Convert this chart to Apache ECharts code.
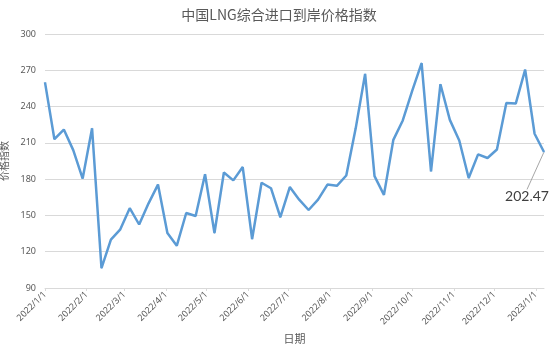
<!DOCTYPE html>
<html>
<head>
<meta charset="utf-8">
<script src="https://cdn.jsdelivr.net/npm/echarts@6/dist/echarts.min.js"></script>
<style>
html,body{margin:0;padding:0;background:#fff;}
#chart{width:558px;height:349px;}
</style>
</head>
<body>
<div id="chart"></div>
<script>
const titleText = '中国LNG综合进口到岸价格指数';
const xName = '日期';
const yName = '价格指数';
const dates = [
  '2022-01-01','2022-01-08','2022-01-15','2022-01-22','2022-01-29',
  '2022-02-05','2022-02-12','2022-02-19','2022-02-26',
  '2022-03-05','2022-03-12','2022-03-19','2022-03-26',
  '2022-04-02','2022-04-09','2022-04-16','2022-04-23','2022-04-30',
  '2022-05-07','2022-05-14','2022-05-21','2022-05-28',
  '2022-06-04','2022-06-11','2022-06-18','2022-06-25',
  '2022-07-02','2022-07-09','2022-07-16','2022-07-23','2022-07-30',
  '2022-08-06','2022-08-13','2022-08-20','2022-08-27',
  '2022-09-03','2022-09-10','2022-09-17','2022-09-24',
  '2022-10-01','2022-10-08','2022-10-15','2022-10-22','2022-10-29',
  '2022-11-05','2022-11-12','2022-11-19','2022-11-26',
  '2022-12-03','2022-12-10','2022-12-17','2022-12-24','2022-12-31',
  '2023-01-07'
];
const values = [
  260, 213, 221, 204, 180.5,
  222, 106.5, 130, 138.5,
  156, 142.5, 160, 175.5,
  135.5, 125, 152, 149.5, 184,
  135.5, 185.5, 179, 190,
  130.5, 177, 172.5, 148.5,
  173.5, 163, 154.5, 163, 175.5,
  174.5, 183, 222, 267,
  182.5, 167, 212.5, 228.5,
  253, 276, 186.5, 258.5, 229,
  212, 181, 200.5, 197.5,
  204.5, 243, 242.5, 270.5, 217.5,
  202.47
];
const monthTicks = [
  '2022-01-01','2022-02-01','2022-03-01','2022-04-01','2022-05-01','2022-06-01',
  '2022-07-01','2022-08-01','2022-09-01','2022-10-01','2022-11-01','2022-12-01','2023-01-01'
];
const yTicks = [90, 120, 150, 180, 210, 240, 270, 300];

function ts(s){ const p = s.split('-').map(Number); return Date.UTC(p[0], p[1]-1, p[2]); }
function fmt(v){ const d = new Date(v); return d.getUTCFullYear() + '/' + (d.getUTCMonth()+1) + '/' + d.getUTCDate(); }

const tickTs = monthTicks.map(ts);
const seriesData = dates.map((d, i) => {
  const item = { value: [ts(d), values[i]] };
  if (i === dates.length - 1) {
    item.label = {
      show: true,
      position: 'bottom',
      distance: 4,
      formatter: (p) => p.value[1].toFixed(2),
      fontSize: 14,
      color: '#404040',
      fontFamily: 'Lato, "Noto Sans", sans-serif'
    };
    item.labelLine = { show: true, lineStyle: { color: '#a6a6a6', width: 1 } };
  }
  return item;
});

const chart = echarts.init(document.getElementById('chart'), null, { renderer: 'canvas' });
chart.setOption({
  animation: false,
  backgroundColor: '#ffffff',
  textStyle: { fontFamily: '"Noto Sans CJK SC", "Noto Sans", sans-serif' },
  title: {
    text: titleText,
    left: 'center',
    top: 3,
    textStyle: { fontSize: 14, fontWeight: 'normal', color: '#595959', fontFamily: '"Noto Sans CJK SC", sans-serif' }
  },
  grid: { left: 45, right: 14, top: 34, bottom: 61, containLabel: false, outerBoundsMode: 'none' },
  xAxis: {
    type: 'value',
    min: ts(dates[0]),
    max: ts(dates[dates.length - 1]),
    name: xName,
    nameLocation: 'middle',
    nameGap: 44,
    nameTextStyle: { fontSize: 11, color: '#595959' },
    axisLine: { show: true, lineStyle: { color: '#d9d9d9', width: 1 } },
    axisTick: { show: true, length: 3, customValues: tickTs, lineStyle: { color: '#d9d9d9' } },
    splitLine: { show: false },
    axisLabel: {
      customValues: tickTs,
      formatter: fmt,
      rotate: 45,
      fontSize: 9,
      color: '#595959',
      margin: 5,
      fontFamily: '"Noto Sans", sans-serif'
    }
  },
  yAxis: {
    type: 'value',
    min: yTicks[0],
    max: yTicks[yTicks.length - 1],
    interval: 30,
    name: yName,
    nameLocation: 'middle',
    nameGap: 25,
    nameTextStyle: { fontSize: 10, color: '#595959' },
    axisLine: { show: false },
    axisTick: { show: false },
    splitLine: { lineStyle: { color: '#d9d9d9', width: 1 } },
    axisLabel: { fontSize: 9, color: '#595959', margin: 9, fontFamily: '"Noto Sans", sans-serif' }
  },
  series: [{
    type: 'line',
    data: seriesData,
    showSymbol: true,
    symbol: 'circle',
    symbolSize: 1,
    lineStyle: { color: '#5b9bd5', width: 2.5 },
    itemStyle: { color: '#5b9bd5' },
    labelLayout: { dx: -17, dy: 33 },
    z: 3
  }]
});
</script>
</body>
</html>
